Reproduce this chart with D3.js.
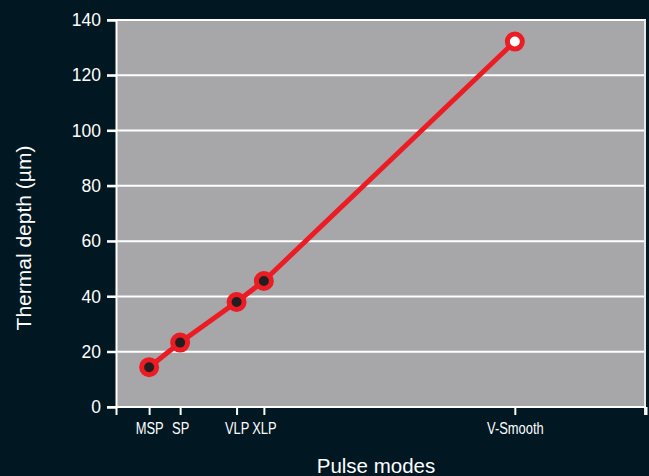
<!DOCTYPE html>
<html><head><meta charset="utf-8">
<script src="https://cdn.jsdelivr.net/npm/d3@7"></script>
<style>
html,body{margin:0;padding:0;background:#011722;}
svg{display:block;}
</style></head>
<body>
<script>
const categories = ["MSP", "SP", "VLP", "XLP", "V-Smooth"];
const xPositions = [12.5, 24.2, 45.5, 55.8, 150.5]; // relative position along axis (0–200)
const depthValues = [14.4, 23.3, 38.0, 45.6, 132.2];
const yTicks = [0, 20, 40, 60, 80, 100, 120, 140];

const W = 649, H = 476;
const m = {left: 116, right: 3, top: 20, bottom: 69};
const svg = d3.select("body").append("svg").attr("width", W).attr("height", H);
svg.append("rect").attr("width", W).attr("height", H).attr("fill", "#011722");

const x = d3.scaleLinear().domain([0, 200]).range([m.left, W - m.right]);
const y = d3.scaleLinear().domain([0, 140]).range([H - m.bottom, m.top]);

// plot background
svg.append("rect").attr("x", m.left).attr("y", m.top)
  .attr("width", x(200) - m.left).attr("height", y(0) - m.top).attr("fill", "#a7a7aa");

// gridlines
svg.append("g").selectAll("line").data(yTicks.filter(d => d > 0)).join("line")
  .attr("x1", m.left - 9).attr("x2", x(200))
  .attr("y1", d => y(d)).attr("y2", d => y(d))
  .attr("stroke", "#ffffff").attr("stroke-width", 2);

// right border
svg.append("line").attr("x1", x(200) - 1).attr("x2", x(200) - 1)
  .attr("y1", m.top).attr("y2", y(0) + 8)
  .attr("stroke", "#e8e8ea").attr("stroke-width", 2);

// Y axis
const yAxis = svg.append("g").attr("transform", `translate(${m.left},0)`)
  .call(d3.axisLeft(y).tickValues(yTicks).tickSize(9).tickPadding(6));
yAxis.select(".domain").attr("stroke", "#ffffff").attr("stroke-width", 2);
yAxis.selectAll(".tick line").attr("stroke", "#ffffff").attr("stroke-width", 2);
yAxis.selectAll(".tick text").attr("fill", "#ffffff")
  .style("font-family", "'Liberation Sans', Arial, sans-serif").style("font-size", "17.5px");

// X axis
const xAxis = svg.append("g").attr("transform", `translate(0,${y(0)})`)
  .call(d3.axisBottom(x).tickValues([0, ...xPositions, 200]).tickSize(8).tickPadding(7)
    .tickFormat((d, i) => (i >= 1 && i <= categories.length) ? categories[i - 1] : ""));
xAxis.select(".domain").attr("stroke", "#ffffff").attr("stroke-width", 2)
  .attr("d", `M${m.left - 9},0H${x(200)}`);
xAxis.selectAll(".tick line").attr("stroke", "#ffffff").attr("stroke-width", 2);
xAxis.selectAll(".tick text").attr("fill", "#ffffff")
  .style("font-family", "'Liberation Sans', Arial, sans-serif")
  .style("font-size", "17px")
  .attr("transform", "scale(0.76,1)");

// axis titles
svg.append("text").attr("x", 376).attr("y", 473).attr("text-anchor", "middle")
  .attr("fill", "#ffffff").style("font-family", "'Liberation Sans', Arial, sans-serif")
  .style("font-size", "20.5px").text("Pulse modes");
svg.append("text").attr("transform", "translate(31,238) rotate(-90)").attr("text-anchor", "middle")
  .attr("fill", "#ffffff").style("font-family", "'Liberation Sans', Arial, sans-serif")
  .style("font-size", "21px").text("Thermal depth (µm)");

// line
const pts = categories.map((c, i) => ({c, x: xPositions[i], v: depthValues[i]}));
svg.append("path").datum(pts)
  .attr("d", d3.line().x(d => x(d.x)).y(d => y(d.v)))
  .attr("fill", "none").attr("stroke", "#ec1c24").attr("stroke-width", 5);

svg.append("g").selectAll("circle").data(pts).join("circle")
  .attr("cx", d => x(d.x)).attr("cy", d => y(d.v)).attr("r", 7.5)
  .attr("fill", (d, i) => i === pts.length - 1 ? "#ffffff" : "#231f20")
  .attr("stroke", "#ec1c24").attr("stroke-width", 5);
</script>
</body></html>
